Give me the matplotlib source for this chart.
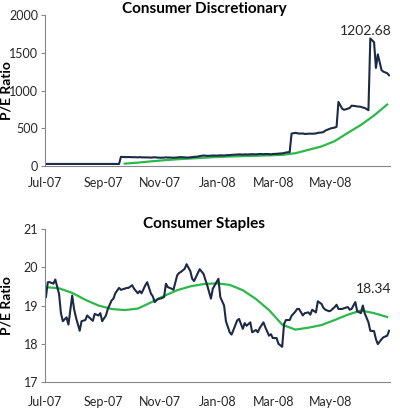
import numpy as np
import pandas as pd
import matplotlib
matplotlib.use('Agg')
import matplotlib.pyplot as plt
import matplotlib.dates as mdates

plt.rcParams['font.family'] = ['Lato', 'DejaVu Sans']

# P/E ratio, sampled every 2 business days from 2007-07-02
disc_pe = [28] * 29 + [
    122, 120, 118, 120, 117, 118, 115, 118, 116, 114,
    115, 112, 114, 116, 112, 110, 112, 115, 113, 112,
    110, 114, 116, 118, 115, 112, 115, 118, 122, 125,
    132, 140, 138, 135, 137, 140, 138, 140, 142, 140,
    143, 145, 148, 150, 152, 155, 152, 155, 153, 155,
    157, 155, 158, 160, 157, 160, 158, 155, 160, 162,
    165, 168, 172, 180, 185, 430,
    440, 435, 430, 432, 425, 428, 430, 428, 432, 440,
    445, 450, 470, 490, 500, 510, 520, 850,
    760, 745, 760, 770, 800, 795, 790, 785, 775, 770,
    740, 1690, 1640, 1300, 1480, 1270, 1250, 1230, 1202.68]

staples_pe = [
    19.22, 19.61, 19.61, 19.57, 19.68, 19.30, 18.80, 18.59, 18.69, 18.50,
    19.26, 18.91, 18.69, 18.34, 18.59, 18.62, 18.74, 18.69, 18.60, 18.78,
    18.74, 18.80, 18.59, 18.74, 18.91, 19.13, 19.18, 19.32, 19.46, 19.41,
    19.44, 19.46, 19.46, 19.53, 19.44, 19.32, 19.38, 19.32, 19.53, 19.61,
    19.31, 19.24, 19.09, 19.18, 19.18, 19.22, 19.57, 19.48, 19.44, 19.41,
    19.79, 19.85, 19.88, 19.96, 20.08, 19.90, 19.70, 19.64, 19.85, 19.95,
    19.83, 19.68, 19.53, 19.18, 19.44, 19.61, 19.70, 19.22, 19.00, 18.59,
    18.30, 18.24, 18.36, 18.61, 18.65, 18.39, 18.54, 18.47, 18.56, 18.30,
    18.36, 18.30, 18.41, 18.56, 18.43, 18.21, 18.25, 18.15, 18.15, 18.00,
    17.92, 18.52, 18.62, 18.62, 18.73, 18.84, 18.91, 18.91, 18.74, 18.80,
    18.82, 18.76, 18.89, 18.82, 19.11, 19.04, 18.94, 18.89, 18.85, 18.87,
    18.96, 19.02, 18.91, 18.91, 18.93, 18.96, 18.89, 18.91, 19.09, 18.85,
    18.80, 19.00, 18.80, 18.56, 18.34, 18.33, 18.12, 17.99, 18.12, 18.17,
    18.21, 18.34]

# moving averages, sampled every 10 business days
disc_ma = [np.nan] * 6 + [
    32, 45, 62, 77, 90, 100, 110, 120, 126, 132,
    136, 142, 148, 170, 215, 260, 330, 440, 545, 670, 815]

staples_ma = [
    19.48, 19.45, 19.33, 19.15, 19.00, 18.91, 18.88, 18.92, 19.08, 19.25,
    19.40, 19.50, 19.56, 19.58, 19.54, 19.40, 19.17, 18.88, 18.50, 18.37,
    18.42, 18.49, 18.62, 18.76, 18.87, 18.80, 18.70]

month_ticks = ['2007-07-01', '2007-09-01', '2007-11-01', '2008-01-01', '2008-03-01', '2008-05-01']

dark = '#1c2a48'
green = '#2cb84b'
axis_col = '#868686'
text_col = '#262626'

fig = plt.figure(figsize=(4.0, 4.08), dpi=100)
ax1 = fig.add_axes([0.1125, 0.593, 0.8625, 0.370])
ax2 = fig.add_axes([0.1125, 0.0637, 0.8625, 0.375])

charts = [
    (ax1, disc_pe, disc_ma, (0, 2000), [0, 500, 1000, 1500, 2000], '1202.68', 32, 8),
    (ax2, staples_pe, staples_ma, (17, 21), [17, 18, 19, 20, 21], '18.34', 30, 10),
]

for ax, pe, ma, ylim, yt, lab, lab_off, xpad in charts:
    d_pe = pd.bdate_range('2007-07-02', periods=len(pe), freq='2B')
    d_ma = pd.bdate_range('2007-07-02', periods=len(ma), freq='10B')
    ax.plot(d_ma, ma, color=green, lw=1.6)
    ax.plot(d_pe, pe, color=dark, lw=1.5)
    ax.set_xlim(pd.Timestamp('2007-07-01'), pd.Timestamp('2008-07-03'))
    ax.set_ylim(*ylim)
    ax.set_yticks(yt)
    ax.set_xticks(pd.to_datetime(month_ticks))
    ax.xaxis.set_major_formatter(mdates.DateFormatter('%b-%y'))
    ax.tick_params(axis='x', length=0, pad=xpad, labelsize=9, colors=text_col)
    ax.tick_params(axis='y', length=3, width=0.8, color=axis_col, labelsize=9, labelcolor=text_col, pad=2)
    for s in ['top', 'right']:
        ax.spines[s].set_visible(False)
    for s in ['left', 'bottom']:
        ax.spines[s].set_color(axis_col)
        ax.spines[s].set_linewidth(0.8)
    ax.set_ylabel('P/E Ratio', fontsize=10, fontweight='bold', color='black')
    ax.yaxis.set_label_coords(-0.093, 0.5)
    ax.annotate(lab, xy=(d_pe[-1], pe[-1]), xytext=(2, lab_off), textcoords='offset points',
                ha='right', va='center', fontsize=10, color=text_col, annotation_clip=False)

fig.text(0.51, 0.978, 'Consumer Discretionary', ha='center', va='center',
         fontsize=11, fontweight='bold', color='black')
fig.text(0.51, 0.451, 'Consumer Staples', ha='center', va='center',
         fontsize=11, fontweight='bold', color='black')

fig.savefig('out.png', dpi=100)
